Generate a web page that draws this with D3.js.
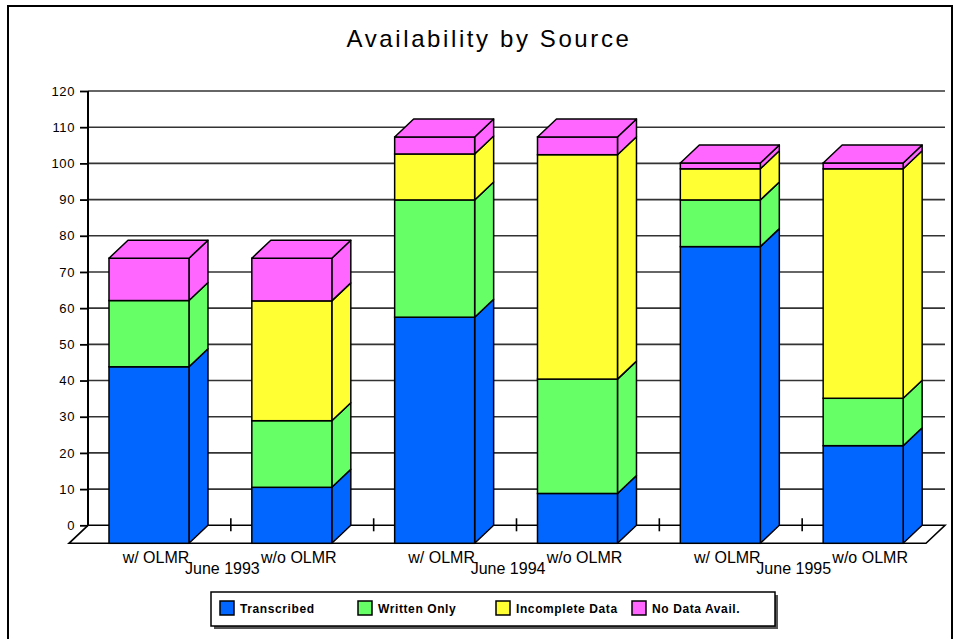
<!DOCTYPE html>
<html>
<head>
<meta charset="utf-8">
<script src="https://cdn.jsdelivr.net/npm/d3@7"></script>
<style>
  html, body { margin: 0; padding: 0; background: #fff; }
  svg { display: block; }
  text { font-family: "Liberation Sans", Arial, sans-serif; fill: #000; }
</style>
</head>
<body>
<svg id="chart" width="958" height="639"></svg>
<script>
// Chart data
const categories = ["w/ OLMR", "w/o OLMR", "w/ OLMR", "w/o OLMR", "w/ OLMR", "w/o OLMR"];
const periods = ["June 1993", "June 1994", "June 1995"];
const seriesNames = ["Transcribed", "Written Only", "Incomplete Data", "No Data Avail."];
const transcribed = [43.8, 10.5, 57.5, 8.8, 77.0, 22.0];
const writtenOnly = [18.3, 18.4, 32.4, 31.6, 12.9, 13.1];
const incompleteData = [0, 33.1, 12.7, 62.0, 8.6, 63.4];
const noDataAvail = [11.7, 11.8, 4.7, 4.9, 1.6, 1.6];
const yTicks = [0, 10, 20, 30, 40, 50, 60, 70, 80, 90, 100, 110, 120];
const seriesColors = ["#0066ff", "#66ff66", "#ffff33", "#ff66ff"];

const rows = categories.map((c, i) => ({
  idx: i,
  "Transcribed": transcribed[i],
  "Written Only": writtenOnly[i],
  "Incomplete Data": incompleteData[i],
  "No Data Avail.": noDataAvail[i]
}));

const svg = d3.select("#chart");

// 3D depth offset of the floor / bars
const DX = 19, DY = 18;

const y = d3.scaleLinear().domain([0, 120]).range([525.3, 91]);
const x = d3.scaleBand().domain(d3.range(categories.length)).range([88, 945]).padding(0);
const color = d3.scaleOrdinal().domain(seriesNames).range(seriesColors);

const barInset = x.bandwidth() * 0.147;
const barWidth = x.bandwidth() * 0.56;
const frontLeft = i => x(i) + barInset;
const frontCenter = i => frontLeft(i) + barWidth / 2;
const floorFront = y(0) + DY;

// outer frame
svg.append("rect")
  .attr("x", 8).attr("y", 6).attr("width", 944).attr("height", 660)
  .attr("fill", "none").attr("stroke", "#000").attr("stroke-width", 2);

// title
svg.append("text")
  .attr("x", 489).attr("y", 47)
  .attr("text-anchor", "middle")
  .style("font-size", "24px")
  .style("letter-spacing", "2.6px")
  .text("Availability by Source");

// back-wall gridlines
svg.append("g").selectAll("line")
  .data(yTicks.filter(d => d > 0))
  .join("line")
  .attr("x1", 88).attr("x2", 945)
  .attr("y1", d => y(d)).attr("y2", d => y(d))
  .attr("stroke", "#333").attr("stroke-width", 1.6);

// floor
const floor = [[88, y(0)], [945, y(0)], [945 - DX, floorFront], [88 - DX, floorFront]];
svg.append("polygon")
  .attr("points", floor.map(p => p.join(",")).join(" "))
  .attr("fill", "#fff").attr("stroke", "#000").attr("stroke-width", 1.6)
  .attr("stroke-linejoin", "miter");

// y axis with ticks
const yAxis = d3.axisLeft(y).tickValues(yTicks).tickSize(8).tickPadding(5).tickFormat(d3.format("d"));
const yg = svg.append("g").attr("transform", "translate(88,0)").call(yAxis);
yg.select(".domain").attr("stroke", "#000").attr("stroke-width", 2).attr("d", `M0,${y(0)}V${y(120)}`);
yg.selectAll(".tick line").attr("stroke", "#000").attr("stroke-width", 1.8);
yg.selectAll(".tick text")
  .style("font-family", "'Liberation Sans', Arial, sans-serif")
  .style("font-size", "13px").style("letter-spacing", "0.6px").attr("fill", "#000");

// category separator ticks on the back baseline
svg.append("g").selectAll("line")
  .data(d3.range(1, categories.length))
  .join("line")
  .attr("x1", i => x(i)).attr("x2", i => x(i))
  .attr("y1", y(0) - 7).attr("y2", y(0) + 6)
  .attr("stroke", "#000").attr("stroke-width", 1.6);

// stacked 3D columns
const stack = d3.stack().keys(seriesNames)(rows);
const barsG = svg.append("g");
categories.forEach((c, i) => {
  const g = barsG.append("g");
  const xl = frontLeft(i), xr = xl + barWidth;
  const segs = stack.map(s => ({ key: s.key, y0: s[i][0], y1: s[i][1] })).filter(s => s.y1 - s.y0 > 0);
  segs.forEach((s, k) => {
    const top = y(s.y1);
    const bottom = k === 0 ? floorFront : y(s.y0);
    const fill = color(s.key);
    // side face
    g.append("polygon")
      .attr("points", [[xr, top], [xr + DX, top - DY], [xr + DX, bottom - DY], [xr, bottom]].map(p => p.join(",")).join(" "))
      .attr("fill", fill).attr("stroke", "#000").attr("stroke-width", 1.5).attr("stroke-linejoin", "round");
    // front face
    g.append("rect")
      .attr("x", xl).attr("y", top).attr("width", barWidth).attr("height", bottom - top)
      .attr("fill", fill).attr("stroke", "#000").attr("stroke-width", 1.5);
    // top face of the column
    if (k === segs.length - 1) {
      g.append("polygon")
        .attr("points", [[xl, top], [xl + DX, top - DY], [xr + DX, top - DY], [xr, top]].map(p => p.join(",")).join(" "))
        .attr("fill", fill).attr("stroke", "#000").attr("stroke-width", 1.5).attr("stroke-linejoin", "round");
    }
  });
});

// category labels
svg.append("g").selectAll("text")
  .data(categories)
  .join("text")
  .attr("x", (d, i) => frontCenter(i) + 7)
  .attr("y", 563)
  .attr("text-anchor", "middle")
  .style("font-size", "16px")
  .text(d => d);

// period labels
svg.append("g").selectAll("text")
  .data(periods)
  .join("text")
  .attr("x", (d, j) => (frontCenter(2 * j) + frontCenter(2 * j + 1)) / 2 + 2)
  .attr("y", 574)
  .attr("text-anchor", "middle")
  .style("font-size", "16px")
  .text(d => d);

// legend
const legend = svg.append("g");
legend.append("rect").attr("x", 214).attr("y", 595).attr("width", 564).attr("height", 34).attr("fill", "#555");
legend.append("rect").attr("x", 211).attr("y", 592).attr("width", 564).attr("height", 34)
  .attr("fill", "#fff").attr("stroke", "#000").attr("stroke-width", 1.5);
const legendX = [220, 358, 496, 632];
seriesNames.forEach((name, k) => {
  legend.append("rect")
    .attr("x", legendX[k]).attr("y", 601).attr("width", 14).attr("height", 14)
    .attr("fill", color(name)).attr("stroke", "#000").attr("stroke-width", 1.5);
  legend.append("text")
    .attr("x", legendX[k] + 20).attr("y", 613)
    .style("font-size", "12px").style("font-weight", "bold").style("letter-spacing", "0.6px")
    .text(name);
});
</script>
</body>
</html>
